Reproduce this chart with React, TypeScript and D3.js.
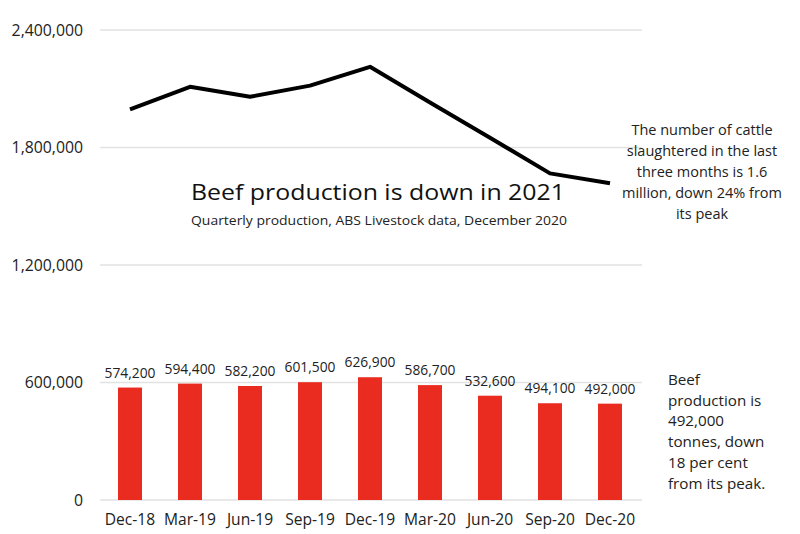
import React from "react";
import * as d3 from "d3";

const categories = ["Dec-18", "Mar-19", "Jun-19", "Sep-19", "Dec-19", "Mar-20", "Jun-20", "Sep-20", "Dec-20"];
const beefProduction = [574200, 594400, 582200, 601500, 626900, 586700, 532600, 494100, 492000];
const cattleSlaughtered = [1995000, 2110000, 2059000, 2116000, 2212000, 2030000, 1850000, 1668000, 1617000];
const yTicks = [0, 600000, 1200000, 1800000, 2400000];
const title = "Beef production is down in 2021";
const subtitle = "Quarterly production, ABS Livestock data, December 2020";
const cattleNote = ["The number of cattle", "slaughtered in the last", "three months is 1.6", "million, down 24% from", "its peak"];
const beefNote = ["Beef", "production is", "492,000", "tonnes, down", "18 per cent", "from its peak."];

const W = 800;
const H = 534;
const FONT = "'Open Sans', Lato, sans-serif";

export default function App() {
  const x = d3.scaleBand<string>().domain(categories).range([100, 640]).paddingInner(0.6).paddingOuter(0.3);
  const y = d3.scaleLinear().domain([0, 2400000]).range([500, 30]);
  const fmt = d3.format(",");
  const cx = (c: string) => (x(c) as number) + x.bandwidth() / 2;
  const line = d3
    .line<number>()
    .x((_, i) => cx(categories[i]))
    .y((d) => y(d));

  return (
    <svg width={W} height={H} style={{ position: "absolute", left: 0, top: 0, background: "#fff" }} fontFamily={FONT}>
      <defs>
        <clipPath id="clipPage">
          <rect x={0} y={0} width={784} height={H} />
        </clipPath>
      </defs>
      <rect width={W} height={H} fill="#fff" />
      {yTicks.map((t) => (
        <g key={t}>
          <line x1={100} x2={642} y1={y(t)} y2={y(t)} stroke="#e2e2e2" strokeWidth={1.5} />
          <text x={83} y={y(t)} dy="0.35em" textAnchor="end" fontSize={15.8} fill="#222">
            {fmt(t)}
          </text>
        </g>
      ))}
      {categories.map((c, i) => (
        <g key={c}>
          <rect x={x(c)} y={y(beefProduction[i])} width={x.bandwidth()} height={y(0) - y(beefProduction[i])} fill="#ea2b1f" />
          <text x={cx(c)} y={y(beefProduction[i]) - 10} textAnchor="middle" fontSize={13.8} fill="#222">
            {fmt(beefProduction[i])}
          </text>
          <text x={cx(c)} y={525} textAnchor="middle" fontSize={15.6} fill="#222">
            {c}
          </text>
        </g>
      ))}
      <path d={line(cattleSlaughtered) || ""} fill="none" stroke="#000" strokeWidth={4} strokeLinejoin="round" />
      <text x={191} y={200} fontSize={22} fill="#111" textLength={374} lengthAdjust="spacingAndGlyphs">
        {title}
      </text>
      <text x={191} y={225} fontSize={13.4} fill="#222" textLength={376} lengthAdjust="spacingAndGlyphs">
        {subtitle}
      </text>
      <g clipPath="url(#clipPage)">
        {cattleNote.map((s, i) => (
          <text key={i} x={702} y={135 + i * 21} textAnchor="middle" fontSize={14.5} fill="#222">
            {s}
          </text>
        ))}
      </g>
      {beefNote.map((s, i) => (
        <text key={i} x={668} y={385 + i * 20.7} fontSize={15.2} fill="#222">
          {s}
        </text>
      ))}
    </svg>
  );
}
